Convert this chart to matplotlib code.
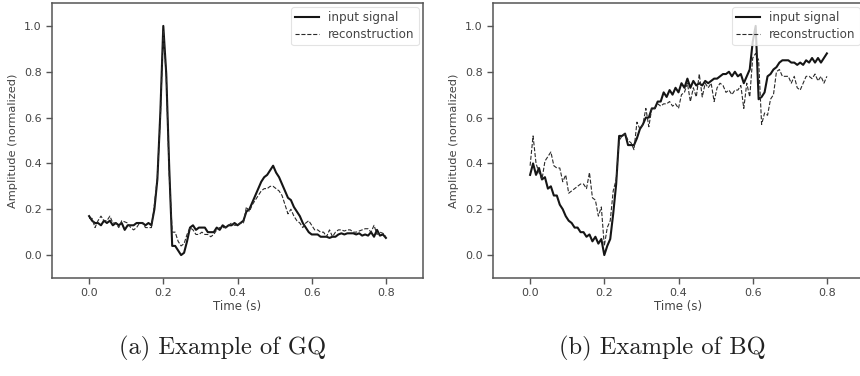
import numpy as np
import matplotlib
matplotlib.use("Agg")
import matplotlib.pyplot as plt

t = np.round(np.arange(0, 101) * 0.008, 3)

gq_input = [0.17, 0.15, 0.14, 0.14, 0.13, 0.15, 0.14, 0.15, 0.13, 0.14,
            0.13, 0.14, 0.11, 0.13, 0.13, 0.13, 0.14, 0.14, 0.14, 0.13,
            0.14, 0.13, 0.20, 0.33, 0.62, 1.00, 0.79, 0.38, 0.04, 0.04,
            0.02, 0.00, 0.01, 0.06, 0.12, 0.13, 0.11, 0.12, 0.12, 0.12,
            0.10, 0.10, 0.10, 0.12, 0.11, 0.13, 0.12, 0.13, 0.13, 0.14,
            0.13, 0.14, 0.15, 0.19, 0.20, 0.23, 0.26, 0.29, 0.32, 0.34,
            0.35, 0.37, 0.39, 0.36, 0.34, 0.31, 0.28, 0.25, 0.24, 0.21,
            0.19, 0.17, 0.14, 0.12, 0.10, 0.09, 0.09, 0.09, 0.08, 0.08,
            0.08, 0.075, 0.08, 0.08, 0.09, 0.095, 0.09, 0.095, 0.095, 0.095,
            0.09, 0.095, 0.085, 0.09, 0.085, 0.10, 0.08, 0.11, 0.085, 0.09,
            0.075]

gq_recon = [0.16, 0.16, 0.12, 0.15, 0.17, 0.15, 0.15, 0.17, 0.14, 0.14,
            0.12, 0.15, 0.145, 0.14, 0.12, 0.11, 0.12, 0.14, 0.14, 0.12,
            0.12, 0.12, 0.22, 0.34, 0.60, 0.98, 0.78, 0.35, 0.10, 0.10,
            0.06, 0.04, 0.05, 0.09, 0.12, 0.11, 0.09, 0.09, 0.10, 0.09,
            0.09, 0.08, 0.09, 0.11, 0.12, 0.12, 0.12, 0.13, 0.14, 0.13,
            0.13, 0.14, 0.14, 0.21, 0.19, 0.22, 0.24, 0.26, 0.28, 0.29,
            0.29, 0.30, 0.30, 0.29, 0.28, 0.26, 0.22, 0.18, 0.20, 0.17,
            0.15, 0.14, 0.12, 0.14, 0.15, 0.13, 0.11, 0.11, 0.10, 0.10,
            0.08, 0.11, 0.08, 0.10, 0.11, 0.11, 0.105, 0.11, 0.11, 0.10,
            0.10, 0.105, 0.11, 0.115, 0.115, 0.10, 0.13, 0.09, 0.10, 0.095,
            0.08]

bq_input = [0.35, 0.40, 0.35, 0.38, 0.33, 0.34, 0.29, 0.30, 0.26, 0.26,
            0.22, 0.20, 0.17, 0.15, 0.14, 0.12, 0.12, 0.10, 0.10, 0.08,
            0.09, 0.06, 0.08, 0.05, 0.07, 0.00, 0.04, 0.07, 0.18, 0.31,
            0.52, 0.52, 0.53, 0.48, 0.48, 0.48, 0.51, 0.55, 0.57, 0.60,
            0.60, 0.64, 0.64, 0.67, 0.67, 0.71, 0.69, 0.72, 0.70, 0.73,
            0.71, 0.75, 0.73, 0.77, 0.73, 0.76, 0.74, 0.75, 0.74, 0.76,
            0.75, 0.76, 0.77, 0.77, 0.78, 0.79, 0.79, 0.80, 0.78, 0.80,
            0.78, 0.79, 0.75, 0.78, 0.81, 0.93, 1.00, 0.68, 0.69, 0.71,
            0.78, 0.79, 0.81, 0.82, 0.84, 0.85, 0.85, 0.85, 0.84, 0.84,
            0.83, 0.84, 0.83, 0.85, 0.84, 0.86, 0.84, 0.86, 0.84, 0.86,
            0.88]

bq_recon = [0.39, 0.52, 0.40, 0.36, 0.33, 0.41, 0.43, 0.45, 0.39, 0.38,
            0.38, 0.32, 0.35, 0.27, 0.28, 0.29, 0.30, 0.31, 0.31, 0.29,
            0.36, 0.25, 0.24, 0.17, 0.21, 0.04, 0.12, 0.15, 0.28, 0.33,
            0.50, 0.52, 0.53, 0.50, 0.49, 0.46, 0.58, 0.55, 0.57, 0.64,
            0.56, 0.64, 0.64, 0.66, 0.65, 0.66, 0.66, 0.67, 0.65, 0.66,
            0.64, 0.70, 0.71, 0.75, 0.67, 0.73, 0.69, 0.79, 0.69, 0.75,
            0.73, 0.75, 0.67, 0.73, 0.75, 0.74, 0.71, 0.72, 0.70, 0.72,
            0.72, 0.74, 0.64, 0.75, 0.69, 0.86, 0.88, 0.85, 0.57, 0.62,
            0.61, 0.68, 0.70, 0.80, 0.81, 0.78, 0.78, 0.78, 0.75, 0.78,
            0.73, 0.72, 0.75, 0.78, 0.78, 0.77, 0.79, 0.76, 0.78, 0.75,
            0.78]

xticks = [0.0, 0.2, 0.4, 0.6, 0.8]
yticks = [0.0, 0.2, 0.4, 0.6, 0.8, 1.0]
captions = ["(a) Example of GQ", "(b) Example of BQ"]

W, H = 860, 376
fig = plt.figure(figsize=(W / 100, H / 100), dpi=100)

spine_c = "#555555"
text_c = "#444444"

panels = [(52, gq_input, gq_recon, captions[0], 223),
          (493, bq_input, bq_recon, captions[1], 662)]

for left_px, sig, rec, cap, cap_x in panels:
    ax = fig.add_axes([left_px / W, 98 / H, 371 / W, 275 / H])
    ax.plot(t, sig, color="#151515", lw=1.5, label="input signal")
    ax.plot(t, rec, color="#2a2a2a", lw=0.8, ls="--", label="reconstruction")
    ax.set_xlim(-0.1, 0.9)
    ax.set_ylim(-0.1, 1.1)
    ax.set_xticks(xticks)
    ax.set_yticks(yticks)
    ax.set_xticklabels([f"{v:.1f}" for v in xticks])
    ax.set_yticklabels([f"{v:.1f}" for v in yticks])
    for s in ax.spines.values():
        s.set_color(spine_c)
        s.set_linewidth(1.1)
    ax.tick_params(direction="out", length=4.5, width=1.0, color=spine_c,
                   labelcolor=text_c, labelsize=8, pad=3)
    ax.set_xlabel("Time (s)", fontsize=8.5, color=text_c, labelpad=1)
    ax.set_ylabel("Amplitude (normalized)", fontsize=8.2, color=text_c, labelpad=4)
    leg = ax.legend(loc="upper right", fontsize=8.6, frameon=True, fancybox=True,
                    borderaxespad=0.35, handlelength=2.0, labelspacing=0.32,
                    borderpad=0.35, handletextpad=0.75)
    leg.get_frame().set_edgecolor("#dddddd")
    leg.get_frame().set_linewidth(0.8)
    for txt in leg.get_texts():
        txt.set_color(text_c)
    fig.text(cap_x / W, 1 - 348 / H, cap, ha="center", va="center",
             fontsize=17.7, family=["cmr10", "DejaVu Serif"], color="#222222")

fig.savefig("out.png", dpi=100)
